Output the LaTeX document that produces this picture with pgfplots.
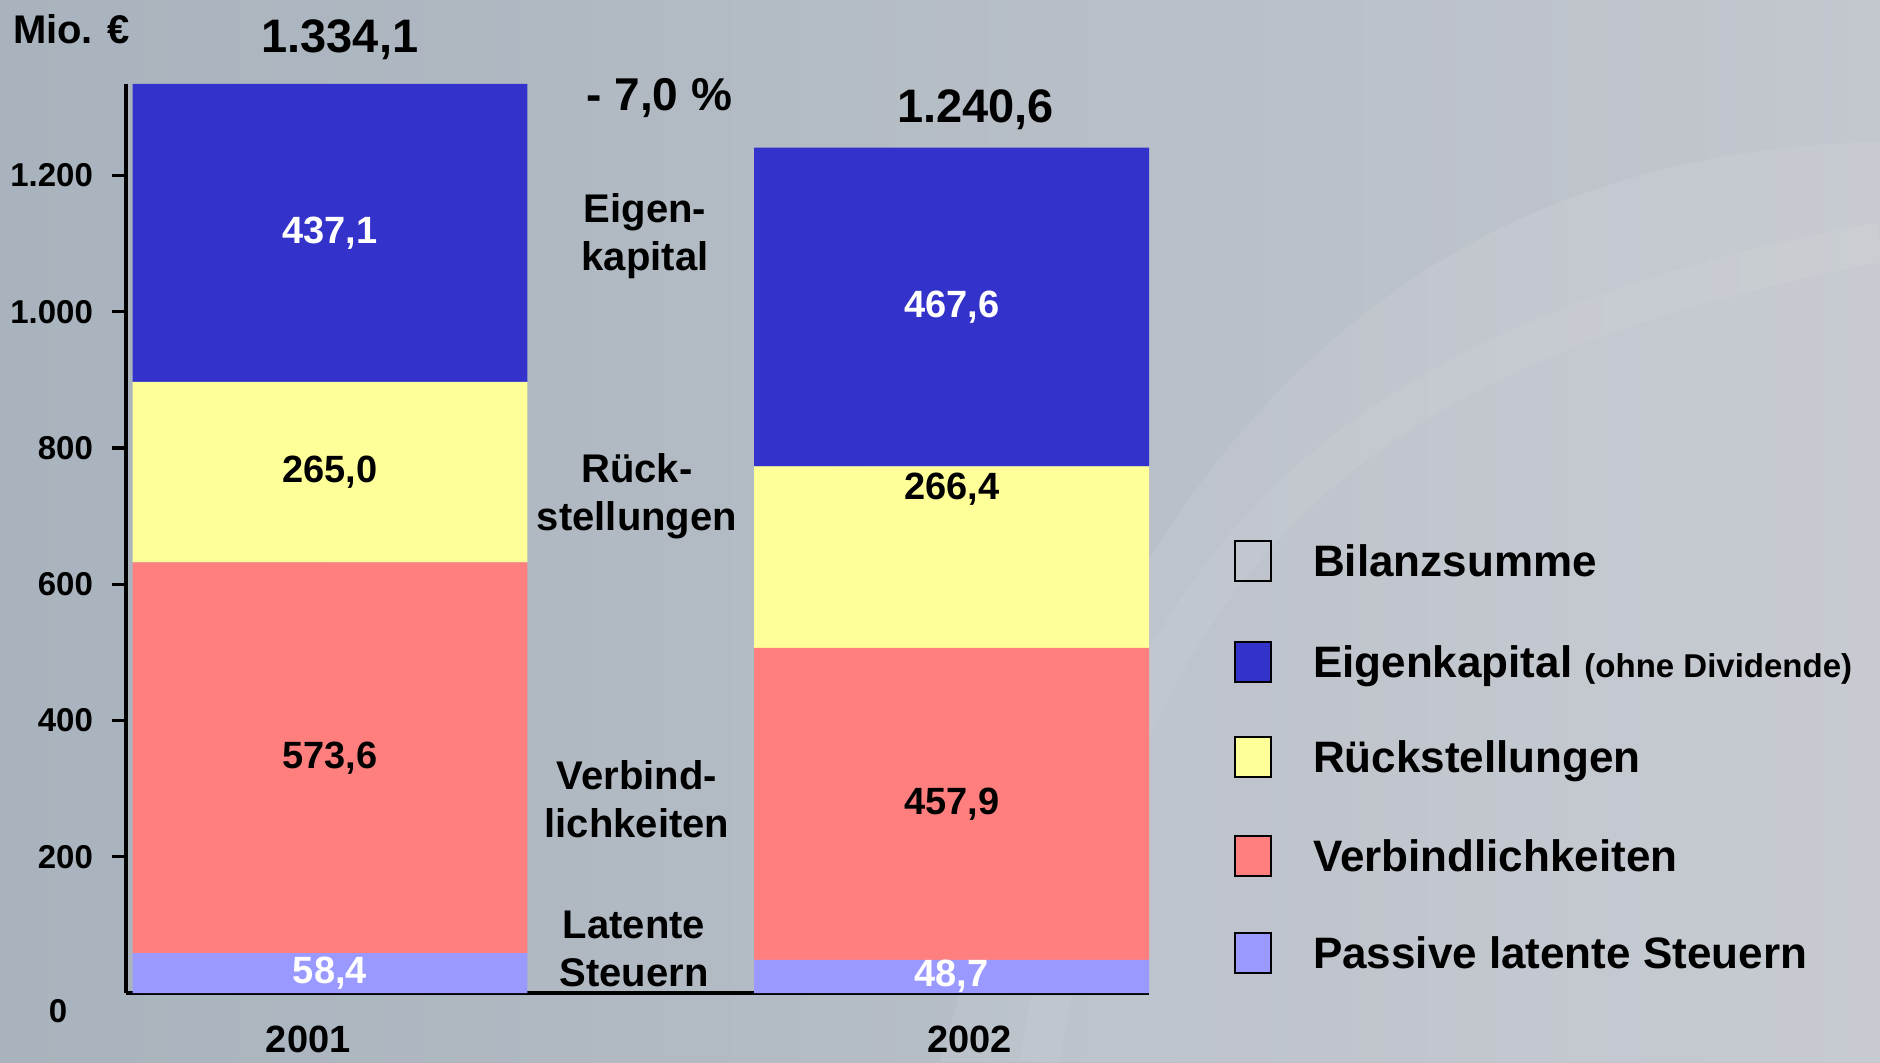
\documentclass[border=0pt]{standalone}
\usepackage{pgfplots}
\usepackage{pgfplotstable}
\pgfplotsset{compat=1.18}
\usepackage{fontspec}
\setmainfont{Liberation Sans}
\definecolor{ekblue}{HTML}{3333CC}
\definecolor{rsyellow}{HTML}{FFFF99}
\definecolor{vbred}{HTML}{FF7F7F}
\definecolor{lslav}{HTML}{9999FF}
\definecolor{bgA}{HTML}{A8B3BD}
\definecolor{bgB}{HTML}{C3C7CE}
\newcommand{\fs}[2]{\fontsize{#1}{#2}\selectfont\bfseries}

\pgfplotstableread{
x latent verb rueck eigen
0 58.4 573.6 265.0 437.1
1 48.7 457.9 266.4 467.6
}\bilanz

\pgfplotsset{
  base/.style={
    scale only axis, width=511.5pt, height=454.5pt,
    at={(63pt,34.5pt)}, anchor=south west,
    xmin=-0.328, xmax=1.3175, ymin=0, ymax=1334.1,
  }}

\begin{document}
\begin{tikzpicture}[x=1pt,y=1pt]
\shade[left color=bgA, right color=bgB] (0,0) rectangle (940,531);
\fill[white, opacity=0.08] (940,460) .. controls (720,455) and (560,330) .. (470,0) -- (940,0) -- cycle;
\draw[line width=20pt, color=white, opacity=0.06] (520,0) .. controls (560,260) and (680,360) .. (940,410);

\begin{axis}[base,
  ybar stacked, bar width=0.635,
  axis x line*=bottom, axis y line*=left,
  axis line style={line width=1.8pt, black},
  xtick={-0.035,1.029}, xticklabels={2001,2002},
  x tick style={draw=none},
  xticklabel style={font=\fs{19}{22}, yshift=-6pt},
  ytick={200,400,...,1200},
  tick align=outside, major tick length=7pt,
  y tick style={line width=1.6pt, black},
  yticklabel style={font=\fs{16.5}{20}, xshift=-6pt},
  /pgf/number format/1000 sep={.},
  /pgf/number format/assume math mode=true,
]
\addplot[fill=lslav, draw=none] table[x=x, y=latent] {\bilanz};
\addplot[fill=vbred, draw=none] table[x=x, y=verb] {\bilanz};
\addplot[fill=rsyellow, draw=none] table[x=x, y=rueck] {\bilanz};
\addplot[fill=ekblue, draw=none] table[x=x, y=eigen] {\bilanz};
\end{axis}

\begin{axis}[base, hide axis, clip=false]
\addplot[draw=none, mark=none, nodes near coords, point meta=explicit symbolic,
  nodes near coords style={anchor=center, font=\fs{19}{22}, text=white}]
  table[meta=lab] {
x y lab
0 29.2 58,4
1 24.35 48,7
0 1115.55 437,1
1 1006.8 467,6
};
\addplot[draw=none, mark=none, nodes near coords, point meta=explicit symbolic,
  nodes near coords style={anchor=center, font=\fs{19}{22}, text=black}]
  table[meta=lab] {
x y lab
0 345.2 573,6
1 277.65 457,9
0 764.5 265,0
1 739.8 266,4
};
\addplot[draw=none, mark=none, nodes near coords, point meta=explicit symbolic,
  nodes near coords style={anchor=center, font=\fs{23.5}{28}, text=black, yshift=22pt, xshift=5pt}]
  table[meta=lab] {
x y lab
0 1334.1 1.334,1
};
\addplot[draw=none, mark=none, nodes near coords, point meta=explicit symbolic,
  nodes near coords style={anchor=center, font=\fs{23.5}{28}, text=black, yshift=19pt, xshift=12pt}]
  table[meta=lab] {
x y lab
1 1240.6 1.240,6
};
\end{axis}

% axis unit and zero label
\node[anchor=west, font=\fs{20}{24}] at (3,516.5) {Mio. €};
\node[font=\fs{16.5}{20}] at (29,25.5) {0};
\node[font=\fs{23}{28}] at (329.7,482) {- 7,0 \%};

% category annotations
\node[align=center, font=\fs{20}{24}] at (322.5,413) {Eigen-\\kapital};
\node[align=center, font=\fs{20}{24}] at (318.5,283) {Rück-\\stellungen};
\node[align=center, font=\fs{20}{24}] at (318.5,131.5) {Verbind-\\lichkeiten};
\node[align=center, font=\fs{20}{24}] at (317,56.5) {Latente\\Steuern};

% legend
\draw[line width=1pt] (617.5,240.5) rectangle (635.5,260.5);
\node[anchor=base west, font=\fs{22}{26}] at (653,242.6) {Bilanzsumme};
\draw[line width=1pt, fill=ekblue] (617.5,190) rectangle (635.5,210);
\node[anchor=base west, font=\fs{22}{26}] at (653,192.1) {Eigenkapital {\fs{16.5}{20}(ohne Dividende)}};
\draw[line width=1pt, fill=rsyellow] (617.5,142.5) rectangle (635.5,162.5);
\node[anchor=base west, font=\fs{22}{26}] at (653,144.6) {Rückstellungen};
\draw[line width=1pt, fill=vbred] (617.5,93) rectangle (635.5,113);
\node[anchor=base west, font=\fs{22}{26}] at (653,95.1) {Verbindlichkeiten};
\draw[line width=1pt, fill=lslav] (617.5,44.5) rectangle (635.5,64.5);
\node[anchor=base west, font=\fs{22}{26}] at (653,46.6) {Passive latente Steuern};

\pgfresetboundingbox
\useasboundingbox (0,0) rectangle (940,531);
\end{tikzpicture}
\end{document}
